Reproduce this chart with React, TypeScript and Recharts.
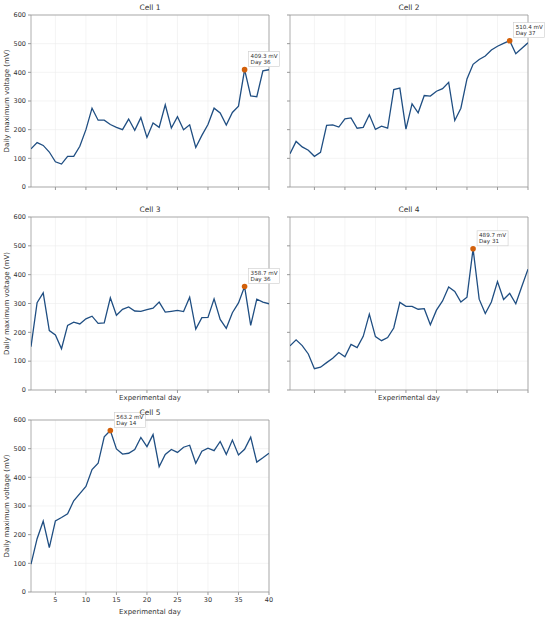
import React from "react";
import { CartesianGrid, Line, LineChart, ReferenceArea, ReferenceDot, XAxis, YAxis } from "recharts";

const days = Array.from({ length: 40 }, (_, i) => i + 1);

const cell1 = [133, 155, 145, 122, 88, 80, 107, 107, 142, 200, 275, 233, 233, 218, 208, 200, 237, 198, 242, 173,
    223, 208, 287, 206, 245, 200, 217, 138, 180, 218, 275, 258, 216, 260, 282, 409.3, 318, 315, 405, 409];
const cell2 = [116, 159, 140, 128, 107, 121, 215, 217, 209, 238, 241, 205, 208, 252, 201, 212, 205, 340, 345, 202,
    290, 259, 319, 317, 334, 343, 365, 232, 275, 377, 428, 445, 457, 478, 491, 501, 510.4, 465, 484, 503];
const cell3 = [150, 303, 337, 206, 191, 143, 224, 235, 229, 247, 256, 231, 233, 320, 259, 280, 288, 274, 273, 279,
    284, 305, 270, 273, 276, 272, 322, 211, 251, 252, 316, 245, 214, 268, 302, 358.7, 224, 315, 305, 299];
const cell4 = [153, 174, 154, 125, 74, 79, 95, 110, 130, 115, 158, 147, 186, 263, 185, 171, 182, 215, 304, 290,
    290, 280, 282, 226, 277, 309, 357, 342, 305, 322, 489.7, 315, 265, 305, 376, 314, 335, 299, 360, 419];
const cell5 = [97, 186, 247, 155, 248, 260, 273, 318, 343, 368, 427, 449, 541, 563.2, 499, 481, 484, 497, 539, 507,
    549, 437, 480, 497, 487, 505, 512, 449, 491, 502, 493, 525, 480, 530, 478, 498, 540, 453, 468, 484];

const xTicks = [5, 10, 15, 20, 25, 30, 35, 40];
const yTicks = [0, 100, 200, 300, 400, 500, 600];

const FONT = "'DejaVu Sans', sans-serif";
const LINE = "#1f4e82";
const PEAK = "#d3600a";
const AXIS = "#999";
const TEXT = "#333";

type PanelProps = {
    title: string;
    values: number[];
    left: number;
    top: number;
    height: number;
    marginTop: number;
    xAxisHeight: number;
    showYLabels: boolean;
    showXLabels: boolean;
    showXTitle: boolean;
};

const PeakShape = (props: any) => {
    const { cx, cy, value, day } = props;
    return (
        <g>
            <circle cx={cx} cy={cy} r={2.8} fill={PEAK} />
            <rect x={cx + 4} y={cy - 18} width={31} height={15} fill="#fff" stroke="#ccc" strokeWidth={0.6} />
            <text x={cx + 6} y={cy - 12} fontSize={5.6} fill={TEXT} fontFamily={FONT}>{value.toFixed(1)} mV</text>
            <text x={cx + 6} y={cy - 5.5} fontSize={5.6} fill={TEXT} fontFamily={FONT}>Day {day}</text>
        </g>
    );
};

const Panel = (p: PanelProps) => {
    const data = days.map((d, i) => ({ day: d, v: p.values[i] }));
    const peak = Math.max(...p.values);
    const peakDay = days[p.values.indexOf(peak)];
    const width = 275;
    return (
        <div style={{ position: "absolute", left: p.left, top: p.top, width, height: p.height }}>
            <LineChart width={width} height={p.height} data={data} margin={{ top: p.marginTop, right: 6, left: 0, bottom: 0 }}>
                <CartesianGrid stroke="#ececec" strokeWidth={0.6} horizontalValues={yTicks} verticalValues={xTicks} />
                <XAxis
                    dataKey="day" type="number" domain={[1, 40]} ticks={xTicks} allowDataOverflow
                    height={p.xAxisHeight} tickSize={3} axisLine={false} stroke={AXIS}
                    tick={{ fontSize: 6.5, fill: TEXT, fontFamily: FONT }}
                    tickFormatter={(v: number) => (p.showXLabels ? String(v) : "")}
                    label={p.showXTitle ? { value: "Experimental day", position: "insideBottom", offset: 3, fontSize: 7, fill: TEXT, fontFamily: FONT } : undefined}
                />
                <YAxis
                    type="number" domain={[0, 600]} ticks={yTicks} width={31} tickSize={3} axisLine={false} stroke={AXIS}
                    tick={{ fontSize: 6.5, fill: TEXT, fontFamily: FONT }}
                    tickFormatter={(v: number) => (p.showYLabels ? String(v) : "")}
                    label={p.showYLabels ? { value: "Daily maximum voltage (mV)", angle: -90, position: "center", dx: -8.5, fontSize: 7, fill: TEXT, fontFamily: FONT } : undefined}
                />
                <ReferenceArea x1={1} x2={40} y1={0} y2={600} fill="none" stroke={AXIS} strokeWidth={0.8} />
                <Line dataKey="v" stroke={LINE} strokeWidth={1.3} dot={false} isAnimationActive={false} />
                <ReferenceDot x={peakDay} y={peak} shape={(s: any) => <PeakShape {...s} value={peak} day={peakDay} />} />
            </LineChart>
            <div style={{
                position: "absolute", left: 31, width: 238, top: p.marginTop - 12, textAlign: "center",
                fontFamily: FONT, fontSize: 7.5, color: TEXT, lineHeight: "9px", pointerEvents: "none",
            }}>{p.title}</div>
        </div>
    );
};

const App = () => {
    return (
        <div style={{ position: "absolute", left: 0, top: 0, width: 550, height: 617, background: "#fff" }}>
            <style>{".recharts-surface, .recharts-wrapper { overflow: visible !important; }"}</style>
            <Panel title="Cell 1" values={cell1} left={0} top={0} height={200} marginTop={15} xAxisHeight={13}
                showYLabels showXLabels={false} showXTitle={false} />
            <Panel title="Cell 2" values={cell2} left={259} top={0} height={200} marginTop={15} xAxisHeight={13}
                showYLabels={false} showXLabels={false} showXTitle={false} />
            <Panel title="Cell 3" values={cell3} left={0} top={200} height={203} marginTop={17} xAxisHeight={13}
                showYLabels showXLabels={false} showXTitle />
            <Panel title="Cell 4" values={cell4} left={259} top={200} height={203} marginTop={17} xAxisHeight={13}
                showYLabels={false} showXLabels={false} showXTitle />
            <Panel title="Cell 5" values={cell5} left={0} top={400} height={217} marginTop={20} xAxisHeight={25}
                showYLabels showXLabels showXTitle />
        </div>
    );
};

export default App;
